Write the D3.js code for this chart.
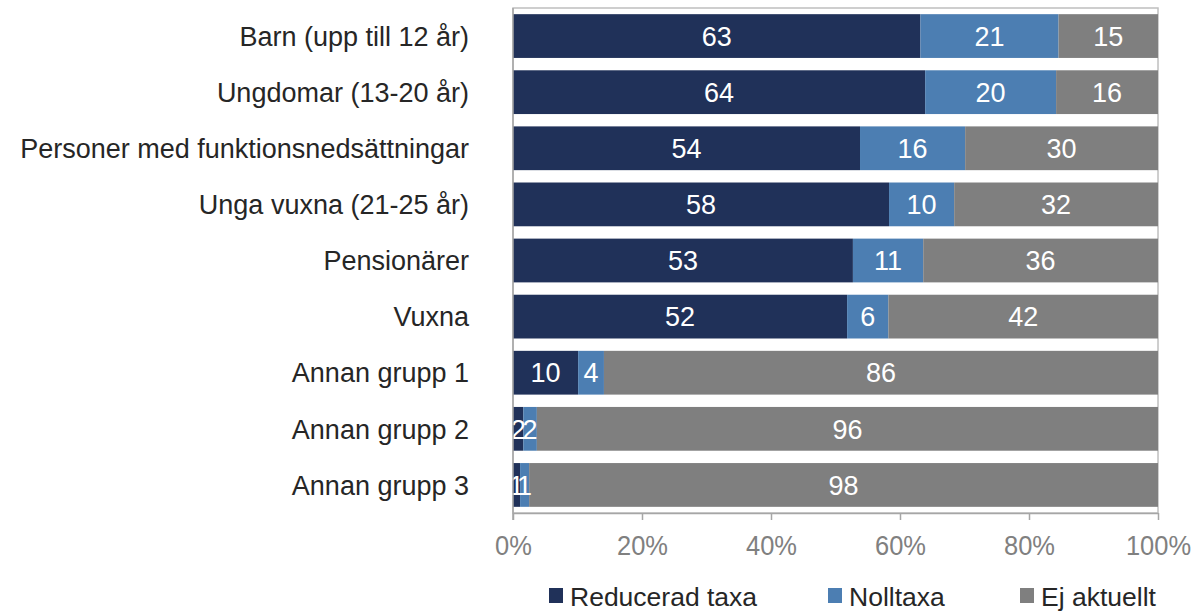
<!DOCTYPE html>
<html><head><meta charset="utf-8">
<script src="https://cdnjs.cloudflare.com/ajax/libs/d3/7.8.5/d3.min.js"></script>
<style>body{margin:0;background:#fff}svg{display:block}text{font-family:"Liberation Sans",Arial,sans-serif}</style>
</head><body><svg id="c" width="1199" height="612"></svg>
<script>
const categories = ["Barn (upp till 12 år)","Ungdomar (13-20 år)","Personer med funktionsnedsättningar","Unga vuxna (21-25 år)","Pensionärer","Vuxna","Annan grupp 1","Annan grupp 2","Annan grupp 3"];
const seriesNames = ["Reducerad taxa","Nolltaxa","Ej aktuellt"];
const reducerad = [63.1,63.9,53.8,58.3,52.7,51.8,10.1,1.6,1.1];
const nolltaxa  = [21.4,20.3,16.3,10.1,10.9,6.4,4.0,2.1,1.4];
const ejAktuellt= [15.4,15.8,29.9,31.6,36.4,41.8,85.9,96.3,97.5];
const ticks = [0,0.2,0.4,0.6,0.8,1.0];
const colors = ["#203159","#4C7EB2","#7F7F7F"];

const svg = d3.select("#c");
const m = {l:513, r:1158, t:8, b:513};
const rows = categories.map((c,i)=>({cat:c, s0:reducerad[i], s1:nolltaxa[i], s2:ejAktuellt[i]}));
const stack = d3.stack().keys(["s0","s1","s2"]).offset(d3.stackOffsetExpand);
const layers = stack(rows);
const x = d3.scaleLinear().domain([0,1]).range([m.l,m.r]);
const y = d3.scaleBand().domain(categories).range([m.t,m.b]).paddingInner(0.22).paddingOuter(0.11);

// plot border
svg.append("rect").attr("x",m.l).attr("y",m.t).attr("width",m.r-m.l).attr("height",m.b-m.t)
  .attr("fill","none").attr("stroke","#BFBFBF").attr("stroke-width",1.5);

const g = svg.append("g");
layers.forEach((L,k)=>{
  g.selectAll(null).data(L).enter().append("rect")
    .attr("x",d=>x(d[0])).attr("y",d=>y(d.data.cat))
    .attr("width",d=>x(d[1])-x(d[0])).attr("height",y.bandwidth())
    .attr("fill",colors[k]);
});
layers.forEach((L,k)=>{
  const raw = [reducerad,nolltaxa,ejAktuellt][k];
  g.selectAll(null).data(L).enter().append("text")
    .attr("x",d=>(x(d[0])+x(d[1]))/2).attr("y",d=>y(d.data.cat)+y.bandwidth()/2)
    .attr("dy","0.36em").attr("text-anchor","middle").attr("fill","#fff")
    .attr("font-size",27).text((d,i)=>Math.round(raw[i]));
});

// left axis line
svg.append("line").attr("x1",m.l).attr("x2",m.l).attr("y1",m.t).attr("y2",m.b+7).attr("stroke","#A6A6A6").attr("stroke-width",1.5);

// x axis
const xa = svg.append("g").attr("transform",`translate(0,${m.b})`)
  .call(d3.axisBottom(x).tickValues(ticks).tickFormat(d3.format(".0%")).tickSize(7).tickSizeOuter(0));
xa.select(".domain").attr("stroke","#A6A6A6").attr("stroke-width",1.5);
xa.selectAll(".tick line").attr("stroke","#A6A6A6").attr("stroke-width",1.5);
xa.selectAll(".tick text").attr("fill","#808080").attr("font-size",28).attr("y",0).attr("dy",0)
  .attr("transform","translate(0,42) scale(0.91,1)")
  .attr("font-family","Liberation Sans, Arial, sans-serif");

// category labels
svg.selectAll(null).data(categories).enter().append("text")
  .attr("x",469).attr("y",d=>y(d)+y.bandwidth()/2).attr("dy","0.36em")
  .attr("text-anchor","end").attr("fill","#262626").attr("font-size",27).text(d=>d);

// legend
const legX = [549,828,1020];
const lg = svg.selectAll(".lg").data(seriesNames).enter().append("g").attr("transform",(d,i)=>`translate(${legX[i]},588)`);
lg.append("rect").attr("width",14).attr("height",15).attr("fill",(d,i)=>colors[i]);
lg.append("text").attr("x",21).attr("y",8).attr("dy","0.36em").attr("font-size",26.5).attr("fill","#262626").text(d=>d);
</script></body></html>
